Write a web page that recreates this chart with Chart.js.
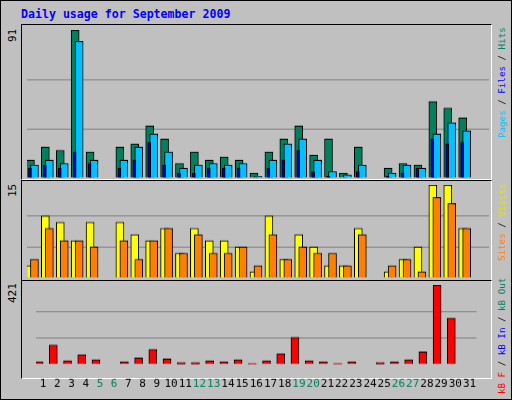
<!DOCTYPE html>
<html>
<head>
<meta charset="utf-8">
<script src="https://cdn.jsdelivr.net/npm/chart.js@4.4.0/dist/chart.umd.min.js"></script>
<style>
  body { margin: 0; background: #fff; }
  #wrap { position: absolute; left: 0; top: 0; width: 510px; height: 398px; background: #c0c0c0;
          border: 1px solid #000; font-family: "DejaVu Sans Mono", monospace; overflow: hidden; }
  .title { position: absolute; left: 20px; top: 6px; color: #0000ff; font-weight: bold; font-size: 11.6px; }
  .panel { position: absolute; left: 20px; width: 469px; border-top: 1px solid #000; border-left: 1px solid #000;
           border-right: 1px solid #fff; border-bottom: 1px solid #fff; }
  canvas { position: absolute; }
  .vl { position: absolute; font-size: 11px; white-space: nowrap; transform-origin: left top; transform: rotate(-90deg); }
  .rl { font-size: 9.2px; line-height: 12px; }
</style>
</head>
<body>
<div id="wrap">
  <div class="title">Daily usage for September 2009</div>
  <div class="panel" style="top:23px;height:154px"></div>
  <div class="panel" style="top:179px;height:99px"></div>
  <div class="panel" style="top:279px;height:97px"></div>
  <div class="vl" style="left:5px;top:41px;color:#000">91</div>
  <div class="vl" style="left:5px;top:196px;color:#000">15</div>
  <div class="vl" style="left:5px;top:302px;color:#000">421</div>
  <div class="vl rl" style="left:495px;top:137px"><span style="color:#00c0ff">Pages</span> / <span style="color:#0000ff">Files</span> / <span style="color:#00805c">Hits</span></div>
  <div class="vl rl" style="left:495px;top:260px"><span style="color:#ff8000">Sites</span> / <span style="color:#e0e000">Visits</span></div>
  <div class="vl rl" style="left:495px;top:393px"><span style="color:#ff0000">kB F</span> / <span style="color:#0000ff">kB In</span> / <span style="color:#00805c">kB Out</span></div>
  <canvas id="c1" style="left:25.5px;top:29.3px"></canvas>
  <canvas id="c2" style="left:25.5px;top:184.3px"></canvas>
  <canvas id="c3" style="left:25.5px;top:284.3px"></canvas>
</div>
<script>
const days = ['1','2','3','4','5','6','7','8','9','10','11','12','13','14','15','16','17','18','19','20','21','22','23','24','25','26','27','28','29','30','31'];
const weekends = ['5','6','12','13','19','20','26','27'];

const hits  = [11,19,17,91,16,0,19,21,32,24,9,16,11,13,11,3,16,24,32,14,24,3,19,0,6,9,8,47,43,37,0];
const files = [8,11,9,84,11,0,11,19,27,16,6,8,9,8,9,1,11,21,24,11,4,2,8,0,3,8,6,27,34,29,0];
const pages = [6,8,6,16,9,0,6,11,22,8,3,3,6,6,6,0,6,11,17,4,1,0,4,0,1,3,6,24,21,22,0];

const visits = [2,10,9,6,9,0,9,7,6,8,4,8,6,6,5,1,10,3,7,5,2,2,8,0,1,3,5,15,15,8,0];
const sites  = [3,8,6,6,5,0,6,3,6,8,4,7,4,4,5,2,7,3,5,4,4,2,7,0,2,3,1,13,12,8,0];

const kbF = [15,103,20,52,25,0,15,34,80,29,11,11,20,15,25,5,20,57,144,20,15,5,15,0,11,15,25,66,421,246,0];

const W = 462;
// nudge each dataset sideways so the bars overlap like the old webalizer graph
const shiftPlugin = {
  id: 'shift',
  afterDatasetsUpdate(chart) {
    chart.data.datasets.forEach((ds, i) => {
      const meta = chart.getDatasetMeta(i);
      meta.data.forEach(el => { el.x += ds.shift || 0; });
    });
  }
};

function bar(label, data, color, thick, shift) {
  return { label, data, backgroundColor: color, borderColor: '#000', borderWidth: 1,
           barThickness: thick, grouped: false, shift, borderSkipped: 'bottom' };
}

function makeChart(id, h, max, datasets, showX) {
  const cv = document.getElementById(id);
  cv.width = W; cv.height = h;
  cv.style.width = W + 'px'; cv.style.height = h + 'px';
  return new Chart(cv, {
    type: 'bar',
    data: { labels: days, datasets },
    plugins: [shiftPlugin],
    options: {
      responsive: false, animation: false, events: [],
      layout: { padding: 0 },
      plugins: { legend: { display: false }, tooltip: { enabled: false } },
      scales: {
        x: { offset: true, display: showX,
             grid: { display: false, drawTicks: false }, border: { display: false },
             ticks: { padding: 13, autoSkip: false, maxRotation: 0,
                      font: { family: 'DejaVu Sans Mono', size: 11 },
                      color: c => weekends.includes(days[c.index]) ? '#00805c' : '#000' } },
        y: { min: 0, max, afterBuildTicks: ax => { ax.ticks = [0, max / 3, max * 2 / 3, max].map(v => ({ value: v })); },
             ticks: { display: false }, border: { display: false },
             grid: { color: c => (c.index === 1 || c.index === 2) ? '#808080' : 'rgba(0,0,0,0)', lineWidth: 1, drawTicks: false } }
      }
    }
  });
}

// first dataset is painted on top
makeChart('c1', 147.4, 91, [
  bar('Pages', pages, '#0000c0', 3, -4.5),
  bar('Files', files, '#00c0ff', 8, 0),
  bar('Hits', hits, '#00805c', 8, -4)
], false);

makeChart('c2', 92.4, 15, [
  bar('Sites', sites, '#ff8000', 8, 0),
  bar('Visits', visits, '#ffff00', 8, -4)
], false);

makeChart('c3', 118.6, 421, [
  bar('kB F', kbF, '#ff0000', 8, -4)
], true);
</script>
</body>
</html>
